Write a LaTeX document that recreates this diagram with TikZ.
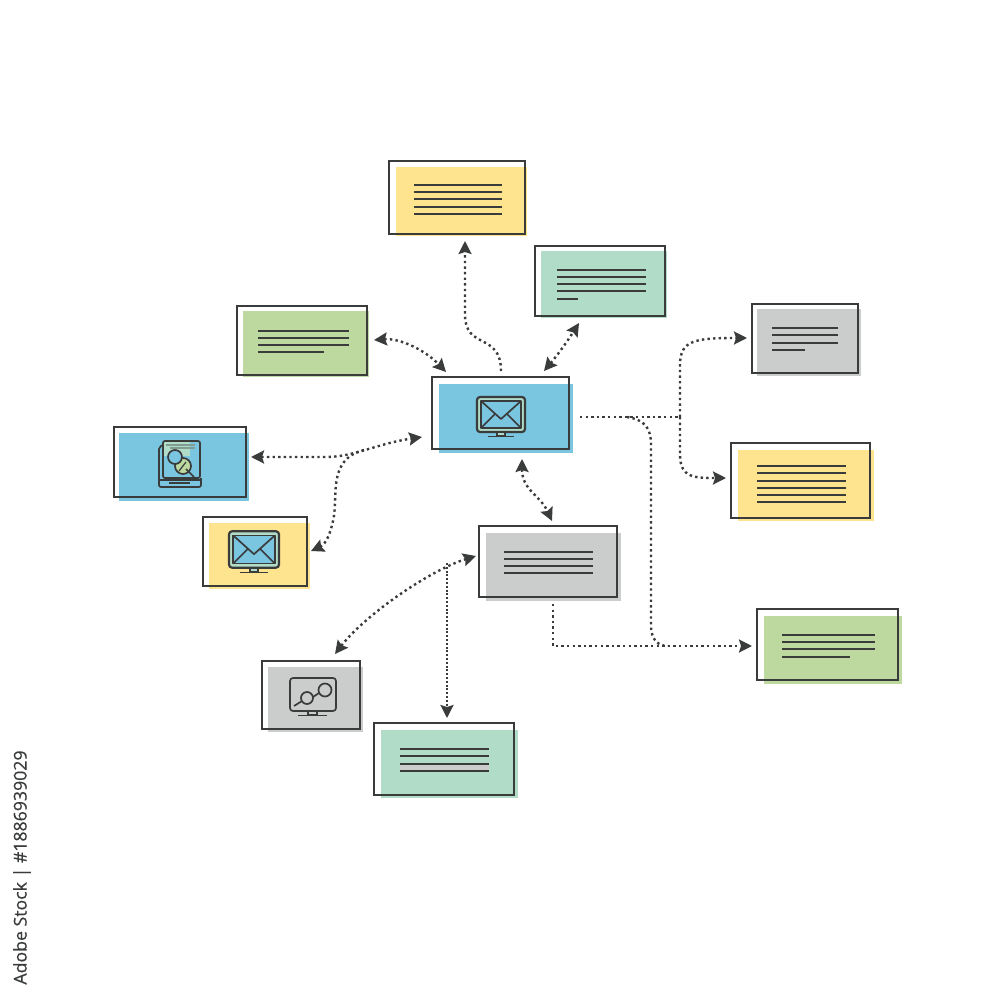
\documentclass[tikz,border=0pt]{standalone}
\usepackage{fontspec}
\setsansfont{Open Sans}
\usepackage{xcolor}
\usetikzlibrary{arrows.meta, fit}

\definecolor{inkdark}{HTML}{3A3C3C}
\definecolor{cardblue}{HTML}{7AC5E0}
\definecolor{cardyellow}{HTML}{FEE48F}
\definecolor{cardteal}{HTML}{B1DCC8}
\definecolor{cardgreen}{HTML}{BED9A0}
\definecolor{cardgrey}{HTML}{CBCDCD}

\tikzset{
    cardframe/.style={draw=inkdark, line width=0.8pt, inner sep=0pt, fit={#1}},
    textline/.style={draw=inkdark, line width=0.75pt},
    iconline/.style={draw=inkdark, line width=0.85pt, line join=round},
    link/.style={draw=inkdark, line width=1.2pt, dash pattern=on 1.2pt off 1.6pt, -{Stealth[length=6.5pt,width=6.5pt,inset=1pt]}},
    linkboth/.style={link, {Stealth[length=6.5pt,width=6.5pt,inset=1pt]}-{Stealth[length=6.5pt,width=6.5pt,inset=1pt]}},
    linkplain/.style={link, -},
    linkdense/.style={link, dash pattern=on 1pt off 0.9pt},
    pics/mailscreen/.style={code={
        \draw[iconline, line width=1.1pt, fill=cardteal, rounded corners=1.5pt] (-24,-18) rectangle (24,17);
        \fill[cardblue] (-20,-14) rectangle (20,13);
        \draw[iconline] (-20,-14) rectangle (20,13);
        \draw[iconline] (-20,-14) -- (0,4) -- (20,-14);
        \draw[iconline] (-20,13) -- (-6,-1);
        \draw[iconline] (20,13) -- (6,-1);
        \draw[iconline, fill=cardteal] (-4,17) rectangle (4,21);
        \draw[iconline] (-13,21.5) -- (13,21.5);
    }}
}

\begin{document}
\begin{tikzpicture}[x=0.5pt, y=-0.5pt]
    \useasboundingbox[fill=white] (0,0) rectangle (1000,1000);

    % Colour patches
    \fill[cardyellow] (396,167) rectangle (527,236);
    \fill[cardteal] (541,251) rectangle (667,318);
    \fill[cardgreen] (243,311) rectangle (369,377);
    \fill[cardblue] (439,384) rectangle (573,453);
    \fill[cardgrey] (757,309) rectangle (861,376);
    \fill[cardyellow] (738,450) rectangle (874,521);
    \fill[cardblue] (119,433) rectangle (249,501);
    \fill[cardyellow] (209,523) rectangle (310,589);
    \fill[cardgrey] (486,533) rectangle (621,601);
    \fill[cardgreen] (764,616) rectangle (902,684);
    \fill[cardgrey] (268,667) rectangle (363,732);
    \fill[cardteal] (381,730) rectangle (518,798);

    % Frames
    \node[cardframe={(389,161) (525,234)}] (topnote) {};
    \node[cardframe={(535,246) (665,316)}] (tealnote) {};
    \node[cardframe={(237,306) (367,375)}] (greennote) {};
    \node[cardframe={(432,377) (569,449)}] (mailhub) {};
    \node[cardframe={(752,304) (858,373)}] (greynote) {};
    \node[cardframe={(731,443) (870,518)}] (yellownote) {};
    \node[cardframe={(114,427) (246,497)}] (booknote) {};
    \node[cardframe={(203,517) (307,586)}] (mailnote) {};
    \node[cardframe={(479,526) (617,597)}] (subhub) {};
    \node[cardframe={(757,609) (898,680)}] (farnote) {};
    \node[cardframe={(262,661) (360,729)}] (chartnote) {};
    \node[cardframe={(374,723) (514,795)}] (lownote) {};

    % Text lines
    \foreach \y in {185,192,199,207,214} \draw[textline] (414,\y) -- (502,\y);
    \foreach \y in {270,277,284,291} \draw[textline] (557,\y) -- (646,\y);
    \draw[textline] (557,299) -- (578,299);
    \foreach \y in {331,338,345} \draw[textline] (258,\y) -- (349,\y);
    \draw[textline] (258,352) -- (324,352);
    \foreach \y in {328,335,343} \draw[textline] (772,\y) -- (838,\y);
    \draw[textline] (772,350) -- (805,350);
    \foreach \y in {466,473,481,488,495,502} \draw[textline] (757,\y) -- (846,\y);
    \foreach \y in {552,559,566,573} \draw[textline] (504,\y) -- (593,\y);
    \foreach \y in {635,642,649} \draw[textline] (782,\y) -- (875,\y);
    \draw[textline] (782,657) -- (850,657);
    \fill[cardgrey] (400,764) rectangle (489,771);
    \foreach \y in {749,756,764,771} \draw[textline] (400,\y) -- (489,\y);

    % Mail screens
    \pic at (501,415) {mailscreen};
    \pic[scale=1.04] at (254,550) {mailscreen};

    % Book with lens
    \draw[iconline, rounded corners=1pt] (163,445) -- (159,447) -- (159,487) -- (201,487) -- (201,478);
    \draw[iconline, rounded corners=1pt] (159,480) -- (201,480);
    \fill[cardteal] (164,442) rectangle (190,456);
    \draw[iconline, rounded corners=1pt] (163,441) rectangle (200,478);
    \draw[iconline, draw=cardteal!60!inkdark] (166,445) -- (195,445);
    \draw[iconline, draw=cardteal!60!inkdark] (170,448) -- (195,448);
    \draw[iconline] (169,483) -- (190,483);
    \draw[iconline, fill=cardgreen] (183,466) circle (8);
    \draw[iconline, fill=cardblue] (175,457) circle (7);
    \draw[iconline, line width=0.6pt] (179,471) -- (186,462);
    \draw[iconline] (186,469) -- (194,477);

    % Chart screen
    \draw[iconline, rounded corners=1.5pt] (290,678) rectangle (336,711);
    \draw[iconline] (308,711) rectangle (317,715);
    \draw[iconline] (298,715.5) -- (327,715.5);
    \draw[iconline] (307,698) circle (6);
    \draw[iconline] (325,690) circle (6.5);
    \draw[iconline] (294,706) -- (302,701);
    \draw[iconline] (313,697) -- (319,693);

    % Link ends
    \coordinate (hubtop) at (501,371);
    \coordinate (topend) at (465,241);
    \coordinate (hubteal) at (544,371);
    \coordinate (tealend) at (579,323);
    \coordinate (hubgreen) at (446,372);
    \coordinate (greenend) at (374,340);
    \coordinate (bookend) at (251,457);
    \coordinate (hubleft) at (422,437);
    \coordinate (leftfork) at (364,450);
    \coordinate (mailend) at (311,551);
    \coordinate (hubdown) at (522,459);
    \coordinate (subup) at (552,521);
    \coordinate (hubright) at (580,417);
    \coordinate (rightfork) at (680,417);
    \coordinate (greyend) at (747,338);
    \coordinate (yellowend) at (726,478);
    \coordinate (farfork) at (627,417);
    \coordinate (farjoin) at (668,646);
    \coordinate (farend) at (752,646);
    \coordinate (subdown) at (553,604);
    \coordinate (subleft) at (476,556);
    \coordinate (chartend) at (335,654);
    \coordinate (lowfork) at (447,563);
    \coordinate (lowend) at (447,718);

    % Links
    \draw[link] (hubtop) .. controls (501,332) and (465,350) .. (465,315) -- (topend);
    \draw[linkboth] (hubteal) .. controls (555,358) and (565,345) .. (tealend);
    \draw[linkboth] (greenend) .. controls (400,338) and (425,350) .. (hubgreen);
    \draw[linkboth] (bookend) -- (325,457) .. controls (355,457) and (375,444) .. (hubleft);
    \draw[link] (leftfork) .. controls (325,460) and (340,500) .. (332,525) .. controls (328,542) and (322,546) .. (mailend);
    \draw[linkboth] (hubdown) .. controls (522,490) and (540,495) .. (subup);
    \draw[linkplain] (hubright) -- (rightfork);
    \draw[link] (rightfork) -- (680,365) .. controls (680,340) and (695,338) .. (greyend);
    \draw[link] (rightfork) -- (680,455) .. controls (680,478) and (695,478) .. (yellowend);
    \draw[linkplain] (farfork) .. controls (645,420) and (651,428) .. (651,445) -- (651,625) .. controls (651,640) and (658,646) .. (farjoin);
    \draw[link] (subdown) -- (553,646) -- (farend);
    \draw[linkboth] (chartend) .. controls (365,615) and (430,570) .. (subleft);
    \draw[linkdense] (lowfork) -- (lowend);

    % Side label
    \node[rotate=90, text=inkdark, font=\sffamily\fontsize{8.85}{10}\selectfont\addfontfeatures{FakeBold=0.4}] (stocklabel) at (22,867.5) {Adobe Stock | \#1886939029};
\end{tikzpicture}
\end{document}
